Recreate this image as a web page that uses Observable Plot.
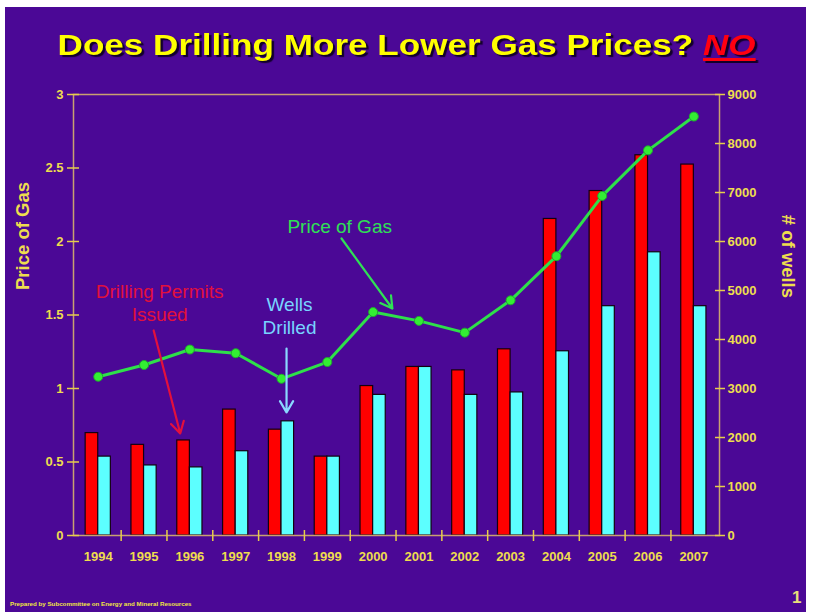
<!DOCTYPE html>
<html>
<head>
<meta charset="utf-8">
<script src="https://cdn.jsdelivr.net/npm/d3@7"></script>
<script src="https://cdn.jsdelivr.net/npm/@observablehq/plot@0.6"></script>
<style>
  html, body { margin: 0; padding: 0; }
  body { width: 813px; height: 612px; overflow: hidden; position: relative; background: #ffffff;
         font-family: "Liberation Sans", Arial, sans-serif; }
  #slide { position: absolute; left: 5px; top: 7px; width: 801px; height: 605px; background: #4B0896; }
  #title { position: absolute; left: 0; top: 31px; width: 813px; text-align: center; white-space: nowrap;
           font-weight: bold; font-size: 29px; line-height: 29px; color: #FFFF00;
           text-shadow: 2px 2px 1px #12002a; transform: scaleX(1.21); transform-origin: 406px 0; }
  #title .no { color: #FF0010; font-style: italic; text-decoration: underline;
               text-decoration-thickness: 3px; text-underline-offset: 3px; }
  #chart { position: absolute; left: 0; top: 60px; }
  #caption { position: absolute; left: 10px; top: 600px; font-size: 6.2px; font-weight: bold; color: #F2E640; white-space: nowrap; }
  #page { position: absolute; left: 792px; top: 588px; font-size: 17px; font-weight: bold; color: #E8E07A; }
</style>
</head>
<body>
<div id="slide"></div>
<div id="title">Does Drilling More Lower Gas Prices? <span class="no">NO</span></div>
<div id="chart"></div>
<div id="caption">Prepared by Subcommittee on Energy and Mineral Resources</div>
<div id="page">1</div>
<script>
// ---- data ----
const years = [1994, 1995, 1996, 1997, 1998, 1999, 2000, 2001, 2002, 2003, 2004, 2005, 2006, 2007];
const gasPrice = [1.08, 1.16, 1.265, 1.24, 1.066, 1.18, 1.52, 1.46, 1.38, 1.60, 1.90, 2.31, 2.62, 2.85];
const permitsIssued = [2090, 1850, 1940, 2570, 2160, 1610, 3050, 3440, 3370, 3800, 6460, 7030, 7760, 7570];
const wellsDrilled = [1610, 1430, 1390, 1720, 2330, 1610, 2870, 3440, 2870, 2920, 3760, 4680, 5780, 4680];
const priceTicks = [0, 0.5, 1, 1.5, 2, 2.5, 3];
const wellTicks = [0, 1000, 2000, 3000, 4000, 5000, 6000, 7000, 8000, 9000];
const priceMax = 3;
const wellsMax = 9000;

// annotation anchors in data space (year, wells)
const noteLabels = [
  {text: "Price of Gas", year: 1999.27, wells: 6327, color: "#2FE055"},
  {text: "Drilling Permits\nIssued", year: 1995.34, wells: 4755, color: "#E3103C"},
  {text: "Wells\nDrilled", year: 1998.175, wells: 4500, color: "#78D4FF"}
];
const noteArrows = [
  {year1: 1999.31, wells1: 6061, year2: 2000.42, wells2: 4633, color: "#2FE055"},
  {year1: 1995.21, wells1: 4184, year2: 1995.79, wells2: 2082, color: "#E3103C"},
  {year1: 1998.11, wells1: 3816, year2: 1998.11, wells2: 2510, color: "#8AD8FF"}
];

// ---- build table ----
const priceToWells = wellsMax / priceMax;
const rows = years.map((y, i) => ({year: y, price: gasPrice[i], permits: permitsIssued[i], wells: wellsDrilled[i]}));
const boundaries = years.slice(0, -1).map(y => y + 0.5);
const halfBar = 0.275;

const axisStroke = "#C9A070";
const tickStroke = "#E6CF4A";
const labelYellow = "#EEDD4E";

const chart = Plot.plot({
  width: 813,
  height: 520,
  marginLeft: 73,
  marginRight: 94,
  marginTop: 34,
  marginBottom: 45,
  style: {background: "transparent", color: labelYellow, fontFamily: "Liberation Sans, Arial, sans-serif",
          fontSize: "13px", fontWeight: "bold", overflow: "visible"},
  x: {type: "linear", domain: [1993.46, 2007.56], axis: null},
  y: {domain: [0, wellsMax], axis: null},
  marks: [
    // bars
    Plot.rectY(rows, {x1: d => d.year - halfBar, x2: d => d.year, y: "permits", fill: "#FF0000", stroke: "#140010", strokeWidth: 1.2}),
    Plot.rectY(rows, {x1: d => d.year, x2: d => d.year + halfBar, y: "wells", fill: "#5CFFFF", stroke: "#140010", strokeWidth: 1.2}),
    // frame
    Plot.frame({stroke: axisStroke, strokeWidth: 1.5}),
    // x axis: boundary ticks + year labels
    Plot.axisX({ticks: boundaries, tickSize: 11, dy: -5, fill: "none", stroke: tickStroke, strokeWidth: 1.5}),
    Plot.axisX({ticks: years, tickSize: 0, tickPadding: 16, tickFormat: d => String(d), label: null,
                fill: labelYellow, style: {letterSpacing: "1.2px"}}),
    // left axis (price of gas)
    Plot.axisY({anchor: "left", ticks: priceTicks.map(p => p * priceToWells), tickSize: 12, dx: 6, fill: "none",
                stroke: tickStroke, strokeWidth: 1.5}),
    Plot.axisY({anchor: "left", ticks: priceTicks.map(p => p * priceToWells), tickSize: 0, tickPadding: 10,
                tickFormat: d => String(d / priceToWells), label: null, fill: labelYellow, style: {letterSpacing: "0.8px"}}),
    // right axis (# of wells)
    Plot.axisY({anchor: "right", ticks: wellTicks, tickSize: 10, dx: -5, fill: "none", stroke: tickStroke, strokeWidth: 1.5}),
    Plot.axisY({anchor: "right", ticks: wellTicks, tickSize: 0, tickPadding: 8, tickFormat: d3.format("d"),
                label: null, fill: labelYellow, style: {letterSpacing: "1.2px"}}),
    // axis titles
    Plot.text(["Price of Gas"], {frameAnchor: "left", dx: -50, dy: -25, rotate: -90, fontSize: 18.5, fill: "#EEDD4E"}),
    Plot.text(["# of wells"], {frameAnchor: "right", dx: 68, dy: -17, rotate: 90, fontSize: 18.5, fill: "#EEDD4E"}),
    // price line
    Plot.line(rows, {x: "year", y: d => d.price * priceToWells, stroke: "#2EE04A", strokeWidth: 3}),
    Plot.dot(rows, {x: "year", y: d => d.price * priceToWells, r: 4.5, fill: "#33EE33", stroke: "#1FA830", strokeWidth: 1}),
    // annotations
    Plot.arrow(noteArrows, {x1: "year1", y1: "wells1", x2: "year2", y2: "wells2", stroke: "color",
                            strokeWidth: 2.2, headLength: 9, bend: 0}),
    Plot.text(noteLabels, {x: "year", y: "wells", text: "text", fill: "color", fontSize: 19, fontWeight: "normal",
                           lineHeight: 1.2})
  ]
});
document.getElementById("chart").appendChild(chart);
</script>
</body>
</html>
